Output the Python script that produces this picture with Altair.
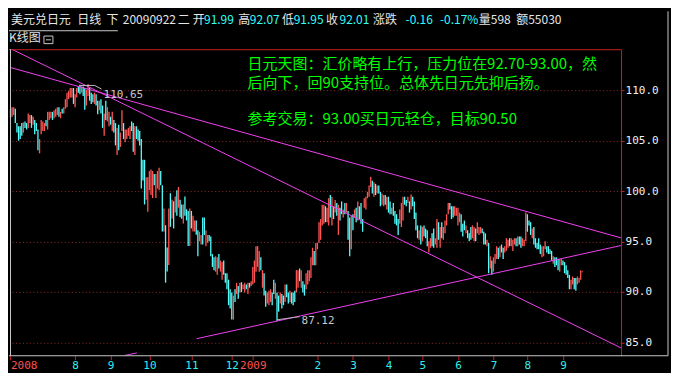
import altair as alt
import pandas as pd

# ---------------- data ----------------
HIGH_1 = [108.19,108.35,108.35,108.19,106.77,106.45,106.45,106.77,106.83,106.93,
          106.77,107.72,107.56,107.56,107.40,107.08,106.77,106.13,105.18,107.08,
          106.93,106.77,107.08,107.88,107.88,107.88,107.88,108.03,108.19,108.35,
          108.35,107.88,108.19,108.35,109.14,109.78,109.94,110.25,110.25,110.25,
          109.62,110.25,110.41,110.57,110.41,110.41,110.25,110.09,110.65,110.25,
          109.78,109.62,109.78,109.62,108.99,108.99,109.14,108.51,107.72,108.99,
          108.35,107.88,107.40,107.88,107.08,106.77,106.29,106.61,105.82,108.03,
          106.77,106.13,106.13,106.29,106.45,106.93,106.77,106.45,106.45,106.13,
          105.97,105.18,103.12,103.12,101.38,101.38,102.01,102.17,102.01,101.70,
          101.70,102.01,102.33,102.01,100.59,98.28,96.63,94.41,98.28,99.80,
          99.16,99.00,99.48,100.11,100.43,99.16,98.69,98.69,99.48,98.21,
          98.05,98.28,98.05,97.58,97.10,97.10]
LOW_1 = [107.24,107.40,107.56,106.77,105.82,105.02,105.18,105.50,105.82,106.29,
         106.13,106.29,106.77,106.29,106.61,105.66,105.97,104.07,103.76,105.66,
         105.97,105.97,106.45,106.13,107.08,107.24,107.08,107.24,107.40,107.56,
         107.40,107.24,107.72,107.72,108.19,108.35,109.14,109.30,109.30,108.67,
         108.35,109.30,109.78,109.62,109.78,109.46,108.10,108.51,109.46,108.99,
         108.67,108.83,108.67,108.51,107.65,108.03,107.72,106.29,105.50,107.08,
         106.93,106.45,106.61,105.97,105.82,104.55,103.60,104.07,104.39,105.97,
         105.18,104.87,105.18,105.50,105.18,105.97,103.92,103.60,105.18,105.02,
         104.55,100.27,101.06,98.69,99.16,97.96,100.11,99.64,99.32,100.59,
         99.32,100.27,100.11,100.59,96.00,96.00,90.92,92.03,92.67,96.47,
         97.26,96.31,97.90,97.58,98.37,97.42,97.26,96.79,97.58,97.10,
         94.57,94.57,96.31,96.00,96.00,95.68]
DIR_1 = ("UUUDDDDDUD" "DUUDUDDDUU" "UUDUUUDUUU" "DUDUUUUUUD" "UUDDUDDUUD"
         "DDUDDUDDUD" "UUDUDDUDUU" "DUUUUDDUDD" "DDDDUUUUUD" "UUUDDUDDUD"
         "UDUDUDDUDD" "DUDUUD")

HIGH_2 = [96.13,95.98,95.66,97.40,97.40,96.13,95.66,95.66,95.50,93.76,
          93.44,93.55,93.44,93.76,93.12,92.97,93.12,91.86,91.86,91.22,
          90.27,89.96,89.64,90.27,90.91,90.59,90.91,90.97,90.75,90.91,
          90.75,90.91,90.91,91.07,92.49,93.12,94.55,94.55,94.08,93.44,
          92.17,91.86,90.12,89.96,90.12,90.27,89.96,91.22,90.91,89.96,
          89.64,89.96,89.80,89.64,90.75,90.75,89.96,90.12,89.96,89.96,
          90.12,92.17,92.17,92.33,92.17,91.07,90.75,91.86,92.17,92.17,
          93.44,94.39,94.08,94.87,94.87,96.93,97.24,98.67,98.67,98.51,
          98.35,99.30,99.62,99.46,98.51,99.14,98.83,98.67,98.35,98.99,
          98.19,98.83,98.83,98.04,97.40,97.56,97.72,98.19,98.35,98.99,
          98.51,98.83,97.24,99.30,99.46,99.94,100.57,101.43,101.05,100.89,
          100.73,100.57,100.57,99.94,99.78,99.62,99.62,99.46,99.46,98.99,
          98.35,98.83,98.04,97.72,97.24,98.19]
LOW_2 = [93.55,95.03,94.71,94.71,95.66,94.55,94.87,95.03,93.55,92.49,
         92.17,92.02,91.70,92.33,92.02,91.22,91.70,90.91,90.27,88.69,
         88.37,87.26,87.26,89.01,89.80,89.32,89.96,89.99,90.27,89.96,
         90.27,89.80,90.43,90.59,90.75,90.91,92.02,92.49,92.02,92.17,
         90.43,89.64,88.53,88.85,88.69,89.01,88.69,89.80,89.32,87.12,
         88.05,88.85,88.37,88.69,89.01,89.48,88.85,89.01,88.85,88.69,
         89.01,89.96,90.43,91.07,90.43,89.96,89.64,90.27,90.75,91.07,
         91.38,92.65,92.65,92.65,94.23,94.87,95.18,96.61,96.77,96.93,
         96.93,96.61,97.40,96.61,97.24,97.88,97.56,95.66,97.09,97.72,
         97.40,97.72,97.88,95.18,93.55,94.23,96.13,97.40,96.93,97.09,
         97.24,96.77,95.98,98.35,98.19,99.30,99.46,100.41,99.78,99.46,
         99.62,99.78,99.78,98.51,98.67,98.51,98.67,98.19,97.88,97.72,
         97.72,97.56,96.77,96.61,95.66,96.77]
DIR_2 = ("DUUDDUUDDD" "DUUDUUDDDD" "DDUDUDUDUU" "DUDUUUUUUD" "UDDUUUDDUD"
         "DUDDUDDUDD" "DUUDUDDUUU" "UUDUUUUUUD" "UUDUDUDUDD" "UDUDDUDUDU"
         "DDDUUUUUDU" "DUDDUUDUDD" "UDDDDU")

HIGH_3 = [98.83,99.46,99.46,99.14,99.46,98.99,99.68,99.46,98.99,97.88,
          96.61,96.13,96.61,96.45,96.61,96.29,96.13,95.03,95.34,95.82,
          96.29,95.34,97.24,96.93,96.45,96.93,96.45,97.09,97.72,98.83,
          98.83,98.51,98.51,98.51,98.35,98.35,97.88,97.72,96.77,97.09,
          96.61,96.13,95.82,96.45,96.61,96.45,96.29,96.93,96.45,96.45,
          96.29,95.98,95.82,95.18,94.87,93.55,93.12,93.44,93.76,94.55,
          94.39,94.55,94.71,94.39,94.55,95.34,95.18,95.34,95.34,95.18,
          95.34,95.34,95.50,95.50,95.50,95.34,95.18,97.88,97.72,97.09,
          96.93,96.29,96.45,95.34,94.87,95.34,94.71,94.55,94.55,95.03,
          94.55,94.55,94.23,94.08,93.55,93.44,93.44,93.28,93.28,93.28,
          93.12,92.97,92.65,92.17,91.70,91.22,91.54,91.38,91.38,91.54,
          91.38,92.17,92.07]
LOW_3 = [96.45,97.09,98.67,98.51,98.83,97.88,98.19,98.51,97.24,96.13,
         95.34,95.18,94.71,95.03,95.50,95.34,94.55,93.92,94.39,94.55,
         94.39,94.71,94.39,95.18,94.39,95.34,95.18,95.82,96.61,97.72,
         98.19,97.24,97.40,97.56,97.56,96.61,96.93,95.98,95.50,96.13,
         95.82,95.34,95.03,95.18,95.34,95.03,95.03,95.82,95.66,95.82,
         95.82,94.71,94.71,94.55,91.86,92.33,91.70,92.02,92.81,93.28,
         93.28,93.44,93.92,93.28,93.92,94.08,94.39,94.55,94.55,94.08,
         94.71,94.55,94.55,94.71,94.39,94.55,94.55,95.03,95.98,96.61,
         95.66,95.34,94.71,94.39,94.23,94.23,93.76,93.44,93.55,94.23,
         93.92,93.76,93.76,93.12,92.81,92.49,92.65,92.17,92.02,92.65,
         92.65,91.86,91.70,91.38,90.27,90.27,90.75,90.27,90.12,90.75,
         90.91,91.22,91.95]
DIR_3 = ("UUDDUDUDDD" "DUDUDDDUUD" "DUUDUDUUUU" "DDDUUUUDDD" "UDDDUUDUUU"
         "DDDUDUDUUU" "DUDDUUUDUU" "UDUDDUUUDD" "DUDDDDDUUU" "DDDDUDDDUU"
         "DDDDDUUDDU" "UUU")

TICK_IDX = [0, 40, 62, 86, 112, 137, 150, 190, 212, 234, 255, 277, 299, 320, 342]
TICK_LABELS = ["2008", "8", "9", "10", "11", "12", "2009", "2", "3", "4", "5", "6", "7", "8", "9"]
YEAR_IDX = [0, 150]
Y_TICKS = [85, 90, 95, 100, 105, 110]

# trend lines: (bar index, price) end points
LINE_NAMES = ["A", "A", "B", "B", "C", "C", "C0", "C0"]
LINE_IDX = [-0.6, 378.2, -0.6, 378.2, 115.2, 378.2, 70.8, 78.2]
LINE_PRICE = [112.31, 95.36, 114.21, 84.43, 85.36, 94.62, 83.70, 83.95]

NOTE_TEXT = ["日元天图：汇价略有上行，压力位在92.70-93.00，然",
             "后向下，回90支持位。总体先日元先抑后扬。",
             "参考交易：93.00买日元轻仓，目标90.50"]
NOTE_IDX = [146.8, 146.8, 146.8]
NOTE_PRICE = [112.65, 110.73, 107.20]

MARK_TEXT = ["110.65", "87.12"]
MARK_IDX = [57.6, 180.2]
MARK_PRICE = [109.52, 87.07]
PTR_NAMES = ["hi", "hi", "hi", "lo", "lo"]
PTR_IDX = [42.5, 52.2, 56.4, 165.1, 179.0]
PTR_PRICE = [110.50, 110.50, 110.14, 87.24, 87.55]

HEADER_TEXT = ["美元兑日元", "日线", "下", "20090922", "二", "开", "91.99", "高", "92.07",
               "低", "91.95", "收", "92.01", "涨跌", "-0.16", "-0.17%", "量598", "额55030"]
HEADER_KIND = ["L", "L", "L", "L", "L", "L", "V", "L", "V", "L", "V", "L", "V", "L", "V", "V", "L", "L"]

# ---------------- layout / style ----------------
HEADER_X = [1, 67.4, 96.7, 113, 168, 183, 194.3, 228.5, 240.2, 272.4, 284.1, 316.4,
            330, 363.5, 396.1, 430.6, 469.5, 507]
W, H = 612, 307
UP, DOWN = "#FF5454", "#54FCFC"
MAG = "#F040F0"
RED = "#C42020"
GRAY = "#C8C8C8"
CJK = "Noto Sans CJK SC"
MONO = "DejaVu Sans Mono"

highs = HIGH_1 + HIGH_2 + HIGH_3
lows = LOW_1 + LOW_2 + LOW_3
dirs = DIR_1 + DIR_2 + DIR_3
candles = pd.DataFrame({
    "i": list(range(len(highs))),
    "high": highs,
    "low": lows,
    "c": [UP if d == "U" else DOWN for d in dirs],
})

xs = alt.Scale(domain=[-0.3, 378.0], nice=False, zero=False)
ys = alt.Scale(domain=[83.67, 114.1], nice=False, zero=False)
one = pd.DataFrame({"a": [0]})

label_expr = ("[" + ",".join("'%s'" % s for s in TICK_LABELS) + "][indexof(["
              + ",".join(str(v) for v in TICK_IDX) + "], datum.value)]")
year_test = "indexof([" + ",".join(str(v) for v in YEAR_IDX) + "], datum.value) >= 0"

x_axis = alt.Axis(
    orient="bottom", values=TICK_IDX, labelExpr=label_expr, domain=False, grid=False,
    ticks=True, tickColor=RED, tickSize=4, labelFont=MONO, labelFontSize=11,
    labelColor={"condition": {"test": year_test, "value": "#FF5050"}, "value": "#30F0F0"},
    labelAlign={"condition": {"test": "datum.value == 0", "value": "left"}, "value": "center"},
    labelPadding=0, labelOverlap=False, title=None,
)
y_axis = alt.Axis(
    orient="right", values=Y_TICKS, format=".1f", labelColor="#F0F0F0", labelFont=MONO,
    labelFontSize=11, tickColor=RED, tickSize=3, domainColor=RED, domainWidth=1,
    grid=True, gridColor="#8C2C2C", gridDash=[1, 2.5], gridWidth=1, labelPadding=1,
    title=None,
)

# invisible frame that fixes the overall extent of the picture
bg = alt.Chart(one).mark_rect(opacity=0).encode(
    x=alt.value(-1), x2=alt.value(662), y=alt.value(-41), y2=alt.value(324))

candle_layer = alt.Chart(candles).mark_rule(strokeWidth=1.3).encode(
    x=alt.X("i:Q", scale=xs, axis=x_axis),
    y=alt.Y("low:Q", scale=ys, axis=y_axis),
    y2="high:Q",
    color=alt.Color("c:N", scale=None),
)

lines_df = pd.DataFrame({"name": LINE_NAMES, "i": LINE_IDX, "p": LINE_PRICE})
lines = alt.Chart(lines_df).mark_line(color=MAG, strokeWidth=1, clip=True).encode(
    x=alt.X("i:Q", scale=xs), y=alt.Y("p:Q", scale=ys), detail="name:N")

ptr_df = pd.DataFrame({"name": PTR_NAMES, "i": PTR_IDX, "p": PTR_PRICE, "o": list(range(len(PTR_IDX)))})
ptrs = alt.Chart(ptr_df).mark_line(color="#B8B8B8", strokeWidth=1).encode(
    x=alt.X("i:Q", scale=xs), y=alt.Y("p:Q", scale=ys), detail="name:N", order="o:Q")

notes_df = pd.DataFrame({"t": NOTE_TEXT, "i": NOTE_IDX, "p": NOTE_PRICE})
notes = alt.Chart(notes_df).mark_text(
    align="left", baseline="middle", font=CJK, fontSize=15, color="#00FF00").encode(
    x=alt.X("i:Q", scale=xs), y=alt.Y("p:Q", scale=ys), text="t:N")

marks_df = pd.DataFrame({"t": MARK_TEXT, "i": MARK_IDX, "p": MARK_PRICE})
marks = alt.Chart(marks_df).mark_text(
    align="left", baseline="middle", font=MONO, fontSize=11, color=GRAY).encode(
    x=alt.X("i:Q", scale=xs), y=alt.Y("p:Q", scale=ys), text="t:N")

# frame lines (pixel layout)
FRAME = [  # x, x2, y, y2, color
    (-1, 612, 0.5, 0.5, RED),
    (0.5, 0.5, 0, 307, GRAY),
    (-1, 659, 307, 307, GRAY),
    (659, 659, -38, 307, GRAY),
    (-1, 108, -18.5, -18.5, GRAY),
    (36, 41, -9.4, -9.4, GRAY),
]
frame_layers = [
    alt.Chart(one).mark_rule(color=c, strokeWidth=1).encode(
        x=alt.value(x1), x2=alt.value(x2), y=alt.value(y1), y2=alt.value(y2))
    for (x1, x2, y1, y2, c) in FRAME
]
box = alt.Chart(one).mark_rect(fillOpacity=0, stroke=GRAY, strokeWidth=1).encode(
    x=alt.value(34), x2=alt.value(43), y=alt.value(-13.2), y2=alt.value(-5.6))

tab_text = alt.Chart(one).mark_text(
    align="left", baseline="middle", font=CJK, fontSize=12, color="#E0E0E0").encode(
    x=alt.value(-1), y=alt.value(-10.8), text=alt.value("K线图"))

header_layers = [
    alt.Chart(one).mark_text(
        align="left", baseline="middle", font=CJK, fontSize=12,
        color=("#E6E6E6" if k == "L" else "#30FFFF")).encode(
        x=alt.value(hx), y=alt.value(-29), text=alt.value(t))
    for t, k, hx in zip(HEADER_TEXT, HEADER_KIND, HEADER_X)
]

chart = alt.layer(
    bg, candle_layer, lines, ptrs, notes, marks, box, tab_text,
    *frame_layers, *header_layers,
).properties(
    width=W, height=H, padding=0, background="#000000",
).configure_view(stroke=None)

chart.save("out.html", embed_options={"renderer": "svg", "actions": False})
